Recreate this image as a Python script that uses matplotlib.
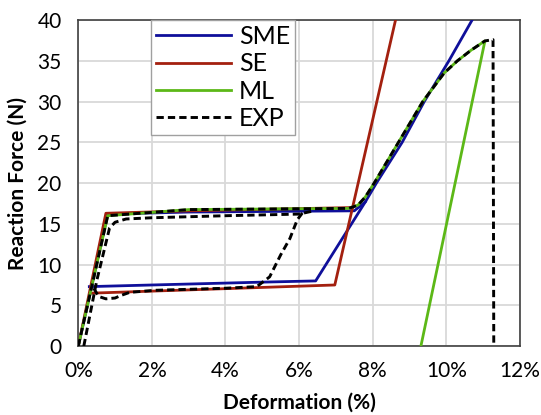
import matplotlib
matplotlib.use("Agg")
import matplotlib.pyplot as plt

plt.rcParams['font.family'] = ['Lato', 'DejaVu Sans']

# ---------------- data (Deformation %, Reaction force N) ----------------
sme_load_x = [0, 0.8, 3.0, 7.5, 7.8, 8.1, 8.8, 9.4, 10.07, 10.7]
sme_load_y = [0, 16.2, 16.45, 16.6, 17.7, 20.0, 25.0, 30.0, 35.0, 40.0]
sme_unload_x = [0.3, 2.0, 5.0, 6.45, 7.8]
sme_unload_y = [7.3, 7.5, 7.85, 8.0, 17.7]

se_load_x = [0, 0.75, 3.0, 7.45]
se_load_y = [0, 16.3, 16.6, 17.0]
se_unload_x = [8.62, 6.97, 0.37]
se_unload_y = [40.0, 7.5, 6.5]

ml_x = [0, 0.8, 3.0, 7.35, 7.6, 7.8, 8.04, 8.7, 9.36, 9.94, 10.3, 10.67, 11.05, 9.31]
ml_y = [0, 16.0, 16.75, 16.9, 17.3, 18.3, 20.0, 25.0, 30.0, 33.5, 35.0, 36.3, 37.45, 0]

exp_main_x = [0, 0.8, 3.0, 7.35, 7.6, 7.8, 8.04, 8.7, 9.36, 9.94, 10.3, 10.67, 11.05, 11.27, 11.29]
exp_main_y = [0, 16.0, 16.75, 16.9, 17.3, 18.3, 20.0, 25.0, 30.0, 33.5, 35.0, 36.3, 37.45, 37.6, 0]
exp_c2_x = [0.15, 0.5, 0.85, 1.0, 1.3, 2.0, 4.0, 6.0, 6.4]
exp_c2_y = [0, 8.0, 14.5, 15.2, 15.6, 15.75, 16.0, 16.2, 16.6]
exp_c3_x = [0.42, 0.55, 0.75, 1.0, 1.15, 1.4, 2.1, 4.0, 4.85, 5.2, 5.5, 5.75, 5.95, 6.1]
exp_c3_y = [7.1, 6.1, 5.8, 5.9, 6.2, 6.6, 6.85, 7.1, 7.3, 8.5, 11.2, 13.2, 15.5, 16.4]

x_ticks = [0, 2, 4, 6, 8, 10, 12]
x_ticklabels = ['0%', '2%', '4%', '6%', '8%', '10%', '12%']
y_ticks = [0, 5, 10, 15, 20, 25, 30, 35, 40]

# ---------------- styling ----------------
c_sme = '#0F0F9A'
c_se = '#A3200F'
c_ml = '#5CB817'
c_exp = '#000000'
lw = 2.0

fig = plt.figure(figsize=(5.41, 4.15), dpi=100)
ax = fig.add_axes([0.1447, 0.166, 0.8163, 0.7855])

ax.plot(sme_load_x, sme_load_y, color=c_sme, lw=lw, label='SME', zorder=3)
ax.plot(sme_unload_x, sme_unload_y, color=c_sme, lw=lw, zorder=3)
ax.plot(se_load_x, se_load_y, color=c_se, lw=lw, label='SE', zorder=3)
ax.plot(se_unload_x, se_unload_y, color=c_se, lw=lw, zorder=3)
ax.plot(ml_x, ml_y, color=c_ml, lw=lw, label='ML', zorder=4)
dash = (0, (2.5, 1.4))
ax.plot(exp_main_x, exp_main_y, color=c_exp, lw=2.1, ls=dash, label='EXP', zorder=5)
ax.plot(exp_c2_x, exp_c2_y, color=c_exp, lw=2.1, ls=dash, zorder=5)
ax.plot(exp_c3_x, exp_c3_y, color=c_exp, lw=2.1, ls=dash, zorder=5)

ax.set_xlim(0, 12)
ax.set_ylim(0, 40)
ax.set_xticks(x_ticks)
ax.set_xticklabels(x_ticklabels)
ax.set_yticks(y_ticks)
ax.tick_params(axis='both', length=0, labelsize=15, colors='#000000')
ax.tick_params(axis='x', pad=11)
ax.tick_params(axis='y', pad=12)
ax.grid(True, color='#D9D9D9', lw=1.3)
ax.set_axisbelow(True)
for s in ax.spines.values():
    s.set_color('#404040')
    s.set_linewidth(1.2)

ax.set_xlabel('Deformation (%)', fontsize=15, fontweight='bold', labelpad=8)
ax.set_ylabel('Reaction Force (N)', fontsize=15, fontweight='bold', labelpad=7)

leg = ax.legend(loc='upper left', bbox_to_anchor=(0.165, 1.0), borderaxespad=0,
                fontsize=18, handlelength=3.0, handletextpad=0.3, borderpad=0.2,
                labelspacing=0.17, fancybox=False, framealpha=1, edgecolor='#A0A0A0')
leg.get_frame().set_linewidth(1.0)

fig.savefig('out.png', dpi=100)
